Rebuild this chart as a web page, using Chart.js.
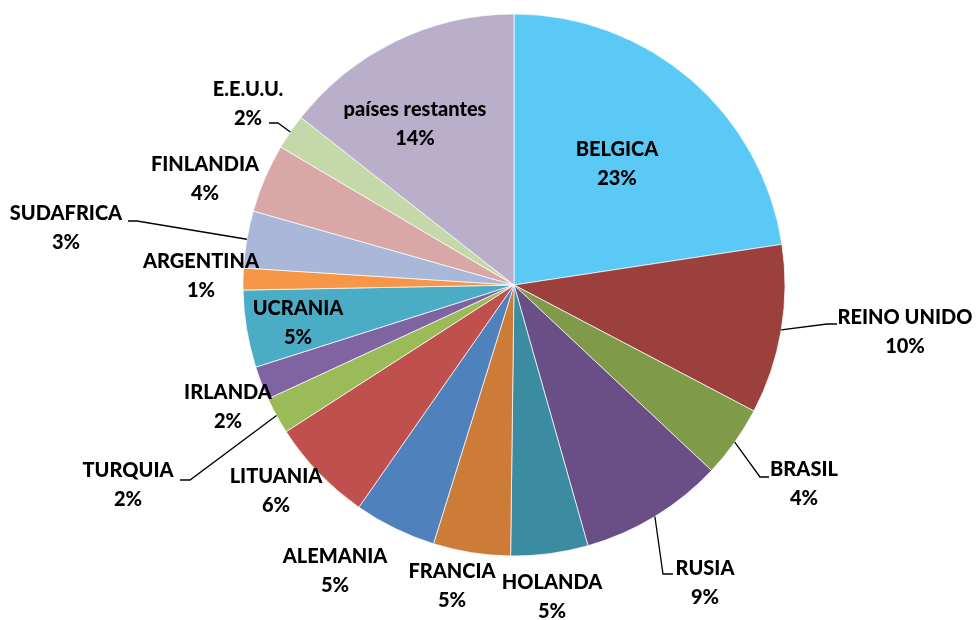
<!DOCTYPE html>
<html>
<head>
<meta charset="utf-8">
<script src="https://cdn.jsdelivr.net/npm/chart.js@4.4.1/dist/chart.umd.min.js"></script>
<style>
  html, body { margin: 0; padding: 0; background: #fff; }
  #wrap { width: 976px; height: 620px; }
</style>
</head>
<body>
<div id="wrap"><canvas id="chart1"></canvas></div>
<script>
const paises = ['BELGICA', 'REINO UNIDO', 'BRASIL', 'RUSIA', 'HOLANDA', 'FRANCIA', 'ALEMANIA', 'LITUANIA',
  'TURQUIA', 'IRLANDA', 'UCRANIA', 'ARGENTINA', 'SUDAFRICA', 'FINLANDIA', 'E.E.U.U.', 'países restantes'];
const porcentajes = [22.6, 10.1, 4.3, 8.6, 4.6, 4.6, 4.9, 6.2, 2.2, 2.0, 4.6, 1.3, 3.4, 4.1, 2.1, 14.4];
const colores = ['#5bc9f5', '#9c403e', '#7f9a48', '#6a4f86', '#3b8ca0', '#cd7b39', '#4f81bd', '#c0504d',
  '#9bbb59', '#8064a2', '#4bacc6', '#f79646', '#a9b8d8', '#d9a7a6', '#c5d8a9', '#b9afcb'];

// label centre (x, y of first line) and optional leader elbow [x, y, endX]
const etiquetas = [
  { x: 617, y: 150 },
  { x: 905, y: 318, elbow: [827, 324, 837] },
  { x: 804, y: 470, elbow: [760, 477, 769] },
  { x: 705, y: 569, elbow: [663, 574, 673] },
  { x: 552, y: 583 },
  { x: 452, y: 572 },
  { x: 335, y: 557 },
  { x: 276, y: 477 },
  { x: 128, y: 471, elbow: [190, 480, 180] },
  { x: 228, y: 393 },
  { x: 298, y: 309 },
  { x: 201, y: 262 },
  { x: 66, y: 214, elbow: [137, 221, 128] },
  { x: 205, y: 165 },
  { x: 248, y: 90, elbow: [278, 123, 269] },
  { x: 415, y: 110 }
];

const labelPlugin = {
  id: 'etiquetas',
  afterDatasetsDraw(chart) {
    const ctx = chart.ctx;
    const meta = chart.getDatasetMeta(0);
    const total = porcentajes.reduce((a, b) => a + b, 0);
    ctx.save();
    meta.data.forEach((arc, i) => {
      const e = etiquetas[i];
      if (e.elbow) {
        const mid = (arc.startAngle + arc.endAngle) / 2;
        const sx = arc.x + Math.cos(mid) * arc.outerRadius;
        const sy = arc.y + Math.sin(mid) * arc.outerRadius;
        ctx.strokeStyle = '#000';
        ctx.lineWidth = 1.3;
        ctx.beginPath();
        ctx.moveTo(sx, sy);
        ctx.lineTo(e.elbow[0], e.elbow[1]);
        ctx.lineTo(e.elbow[2], e.elbow[1]);
        ctx.stroke();
      }
      ctx.fillStyle = '#000';
      ctx.font = '900 20px Lato, sans-serif';
      ctx.textAlign = 'center';
      ctx.textBaseline = 'middle';
      ctx.fillText(paises[i], e.x, e.y);
      ctx.fillText(Math.round(porcentajes[i] / total * 100) + '%', e.x, e.y + 29);
    });
    ctx.restore();
  }
};

new Chart(document.getElementById('chart1').getContext('2d'), {
  type: 'pie',
  data: {
    labels: paises,
    datasets: [{
      data: porcentajes,
      backgroundColor: colores,
      borderColor: 'rgba(255,255,255,0.7)',
      borderWidth: 1,
      radius: 271
    }]
  },
  options: {
    responsive: true,
    maintainAspectRatio: false,
    animation: false,
    layout: { padding: { left: 52, right: 0, top: 0, bottom: 50 } },
    plugins: {
      legend: { display: false },
      tooltip: { enabled: false }
    }
  },
  plugins: [labelPlugin]
});
</script>
</body>
</html>
